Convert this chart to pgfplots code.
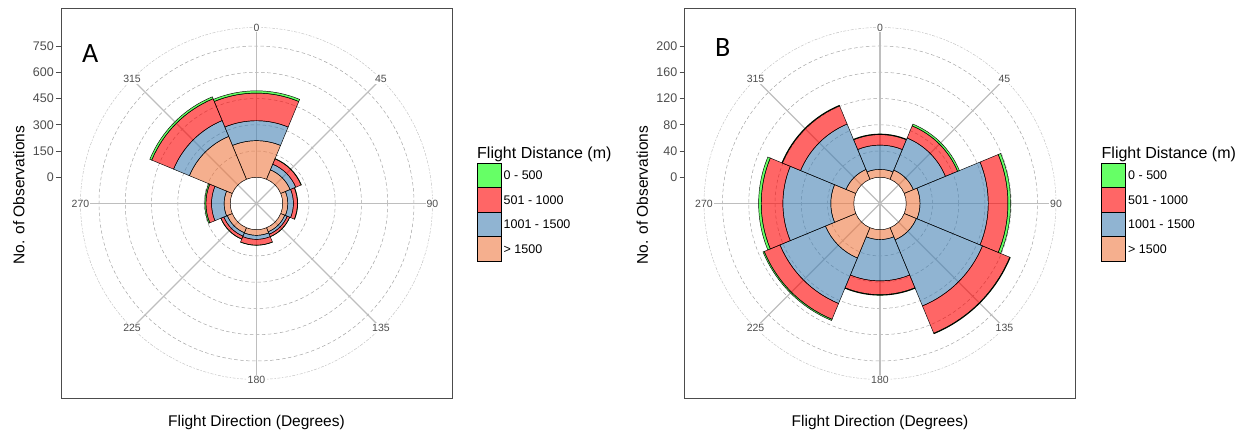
\documentclass[border=0pt]{standalone}
\usepackage{pgfplots}
\pgfplotsset{compat=1.18}
\usepackage{pgfplotstable}
\usepackage{fontspec}
\setmainfont{Liberation Sans}
\newfontfamily\panelfont{Carlito}

% bar colours (drawn at 60% opacity)
\definecolor{c500}{RGB}{0,255,0}
\definecolor{c1000}{RGB}{255,0,0}
\definecolor{c1500}{RGB}{70,130,180}
\definecolor{cfar}{RGB}{238,121,66}
\definecolor{tickgrey}{RGB}{77,77,77}
\definecolor{spokegrey}{RGB}{190,190,190}
\definecolor{ringgrey}{RGB}{165,165,165}

% observations per 45-degree direction bin, split by flight distance
\pgfplotstableread{
dir far mid near close
0   209 114 158 13
45  58  35  33  2
90  29  32  23  2
135 25  15  15  1
180 32  23  33  1
225 31  21  18  1
270 35  72  32  7
315 265 98  135 12
}\dataA

\pgfplotstableread{
dir far mid near close
0   12  37  16  1
45  15  53  20  3
90  21  104 30  4
135 20  109 45  1
180 15  63  21  1
225 50  75  26  2
270 35  73  33  4
315 16  75  30  1
}\dataB

\newcommand\fs[1]{\fontsize{#1}{#1}\selectfont}

% one stacked segment: #1 bin centre (compass degrees), #2/#3 inner/outer radius (pt),
% #4 colour, #5 y value of the rose centre
\newcommand\roseSector[5]{%
  \filldraw[fill=#4, fill opacity=0.6, draw=black, line width=0.45pt,
            shift={(axis cs:0,#5)}]
    ({112.5-#1}:#3pt) arc[start angle={112.5-#1}, end angle={67.5-#1}, radius=#3pt]
    -- ({67.5-#1}:#2pt) arc[start angle={67.5-#1}, end angle={112.5-#1}, radius=#2pt]
    -- cycle;}

% stacked rose: #1 table, #2 hole size (counts), #3 pt per count
\newcommand\drawRose[3]{%
  \pgfplotstablegetrowsof{#1}%
  \pgfmathtruncatemacro\lastrow{\pgfplotsretval-1}%
  \pgfplotsforeachungrouped \rowidx in {0,...,\lastrow}{%
    \pgfplotstablegetelem{\rowidx}{dir}\of#1\edef\rdir{\pgfplotsretval}%
    \pgfplotstablegetelem{\rowidx}{far}\of#1\edef\vfar{\pgfplotsretval}%
    \pgfplotstablegetelem{\rowidx}{mid}\of#1\edef\vmid{\pgfplotsretval}%
    \pgfplotstablegetelem{\rowidx}{near}\of#1\edef\vnear{\pgfplotsretval}%
    \pgfplotstablegetelem{\rowidx}{close}\of#1\edef\vclose{\pgfplotsretval}%
    \pgfmathsetmacro\rA{#2*#3}%
    \pgfmathsetmacro\rB{(#2+\vfar)*#3}%
    \pgfmathsetmacro\rC{(#2+\vfar+\vmid)*#3}%
    \pgfmathsetmacro\rD{(#2+\vfar+\vmid+\vnear)*#3}%
    \pgfmathsetmacro\rE{(#2+\vfar+\vmid+\vnear+\vclose)*#3}%
    \edef\doit{%
      \noexpand\roseSector{\rdir}{\rA}{\rB}{cfar}{-#2}%
      \noexpand\roseSector{\rdir}{\rB}{\rC}{c1500}{-#2}%
      \noexpand\roseSector{\rdir}{\rC}{\rD}{c1000}{-#2}%
      \noexpand\roseSector{\rdir}{\rD}{\rE}{c500}{-#2}}%
    \doit}}

% polar grid: rings every tick step, spokes every 45 degrees, direction labels
\newcommand\roseGrid[1]{% #1 y value of the rose centre
  \pgfplotsinvokeforeach{1,...,6}{%
    \draw[ringgrey, line width=0.5pt, dash pattern=on 3.5pt off 2.5pt, shift={(axis cs:0,#1)}]
      (0pt,0pt) circle[radius=##1*26.25pt];}
  \draw[ringgrey!70, line width=0.45pt, dash pattern=on 1.5pt off 1.5pt on 3pt off 1.5pt, shift={(axis cs:0,#1)}]
      (0pt,0pt) circle[radius=176pt];
  \pgfplotsinvokeforeach{0,45,...,315}{%
    \draw[spokegrey, line width=1.2pt, shift={(axis cs:0,#1)}] (0pt,0pt) -- ({90-##1}:176pt);}
}
\newcommand\roseLabels[1]{%
  \pgfplotsinvokeforeach{0,45,...,315}{%
    \node[fill=white, inner sep=1pt, text=tickgrey, font=\fs{10.5}, shift={(axis cs:0,#1)}]
      at ({90-##1}:176pt) {##1};}
}

\newcommand\roseLegend[1]{% #1 left edge of the keys (pt)
  \node[anchor=base west, inner sep=0pt, font=\fs{16}] at (#1pt,276.5pt) {Flight Distance (m)};
  \foreach \c/\t [count=\k from 0] in {c500/0 - 500, c1000/501 - 1000, c1500/1001 - 1500, cfar/> 1500}{
    \filldraw[fill=\c, fill opacity=0.6, draw=black, line width=0.6pt]
      (#1pt,{271.7pt-24.5pt*\k}) rectangle ++(24pt,-24.5pt);
    \node[anchor=west, inner sep=0pt, font=\fs{12.5}] at ({#1pt+26.5pt},{259.45pt-24.5pt*\k}) {\t};
  }
}

\pgfplotsset{
  rose/.style={
    anchor=south west, clip=false,
    xtick=\empty, ytick pos=left, tick align=outside,
    major tick length=5pt,
    major tick style={draw=black!70, line width=0.7pt},
    axis line style={draw=black!70, line width=0.7pt},
    /pgf/number format/assume math mode=true,
    yticklabel style={font=\fs{12.5}, text=tickgrey, inner sep=2pt},
    xlabel={Flight Direction (Degrees)},
    ylabel={No. of Observations},
    every axis x label/.style={at={(axis description cs:0.5,-0.0731)}, anchor=base,
      font=\fs{15.5}},
    every axis y label/.style={at={(axis description cs:-0.0934,0.52)}, rotate=90, anchor=base,
      font=\fs{15.5}},
  }
}

\begin{document}
\begin{tikzpicture}
\useasboundingbox (0pt,0pt) rectangle (1244pt,435pt);

\begin{axis}[rose, at={(61pt,37pt)},
  x=0.175pt, y=0.175pt,
  xmin=-1117.1, xmax=1117.1, ymin=-1261.4, ymax=967.1,
  ytick={0,150,...,750}]
  \roseGrid{-150}
  \drawRose{\dataA}{150}{0.175}
  \roseLabels{-150}
\end{axis}
\node[anchor=base west, inner sep=0pt, font=\panelfont\fs{28}] at (82pt,372pt) {A};
\roseLegend{477}

\begin{axis}[rose, at={(684.5pt,37pt)},
  x=0.65625pt, y=0.65625pt,
  xmin=-297.9, xmax=297.9, ymin=-336.4, ymax=257.9,
  ytick={0,40,...,200}]
  \roseGrid{-40}
  \drawRose{\dataB}{40}{0.65625}
  \roseLabels{-40}
\end{axis}
\node[anchor=base west, inner sep=0pt, font=\panelfont\fs{28}] at (715pt,378pt) {B};
\roseLegend{1101.5}
\end{tikzpicture}
\end{document}
